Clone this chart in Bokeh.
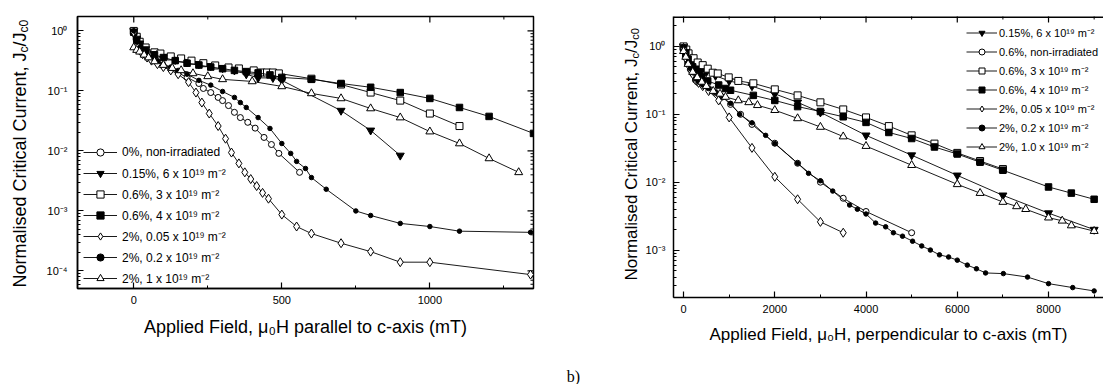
import math
from bokeh.plotting import figure
from bokeh.layouts import row
from bokeh.models import FixedTicker, Legend, LegendItem, Label, CustomJSTickFormatter, Range1d, Span
from bokeh.embed import file_html
from bokeh.resources import INLINE

FONT = "Liberation Sans"
H = 384

# ---------------- (left) field parallel to c-axis, mT ----------------
par_x_nonirr = [0, 10, 20, 30, 45, 60, 80, 100, 125, 150, 180, 220, 235, 260, 285, 300, 320, 340, 360, 385, 410, 440, 465, 490, 560]
par_y_nonirr = [1.0, 0.62, 0.5, 0.44, 0.38, 0.34, 0.3, 0.26, 0.23, 0.2, 0.168, 0.133, 0.11, 0.094, 0.078, 0.069, 0.057, 0.044, 0.036, 0.030, 0.024, 0.0168, 0.0128, 0.0091, 0.0044]

par_x_015 = [0, 10, 20, 40, 70, 100, 140, 180, 220, 260, 300, 340, 380, 420, 470, 500, 700, 800, 900]
par_y_015 = [1.0, 0.75, 0.62, 0.5, 0.42, 0.37, 0.33, 0.3, 0.28, 0.26, 0.24, 0.22, 0.19, 0.165, 0.165, 0.15, 0.047, 0.022, 0.0084]

par_x_06_3 = [0, 10, 20, 40, 70, 90, 125, 160, 195, 235, 275, 320, 355, 405, 430, 450, 470, 490, 600, 700, 800, 900, 1000, 1100]
par_y_06_3 = [1.0, 0.8, 0.66, 0.53, 0.44, 0.42, 0.376, 0.348, 0.32, 0.29, 0.266, 0.246, 0.237, 0.22, 0.203, 0.203, 0.203, 0.196, 0.16, 0.128, 0.094, 0.069, 0.042, 0.026]

par_x_06_4 = [0, 10, 20, 40, 70, 100, 140, 180, 220, 260, 300, 340, 380, 420, 460, 500, 600, 700, 800, 900, 1000, 1100, 1200, 1350]
par_y_06_4 = [0.95, 0.72, 0.6, 0.48, 0.4, 0.36, 0.32, 0.29, 0.27, 0.25, 0.235, 0.22, 0.21, 0.2, 0.185, 0.168, 0.156, 0.133, 0.115, 0.094, 0.075, 0.053, 0.0376, 0.0196]

par_x_2_005 = [0, 10, 20, 30, 45, 60, 80, 100, 125, 150, 185, 210, 230, 255, 285, 310, 330, 355, 375, 395, 415, 435, 455, 500, 550, 600, 700, 800, 900, 1000, 1340]
par_y_2_005 = [0.95, 0.58, 0.47, 0.41, 0.36, 0.32, 0.28, 0.25, 0.22, 0.19, 0.14, 0.094, 0.064, 0.042, 0.026, 0.016, 0.0094, 0.0062, 0.0044, 0.0034, 0.0026, 0.0020, 0.0016, 0.00087, 0.00055, 0.00042, 0.00029, 0.00021, 0.00014, 0.00014, 0.000087]

par_x_2_02 = [0, 10, 20, 30, 45, 60, 80, 100, 125, 150, 180, 220, 260, 300, 340, 360, 380, 420, 460, 500, 530, 550, 580, 600, 650, 750, 800, 900, 1000, 1100, 1340]
par_y_2_02 = [1.0, 0.65, 0.52, 0.46, 0.4, 0.36, 0.32, 0.28, 0.25, 0.22, 0.19, 0.15, 0.125, 0.098, 0.078, 0.064, 0.053, 0.036, 0.0237, 0.0133, 0.0091, 0.0067, 0.0051, 0.0036, 0.0023, 0.001, 0.00084, 0.00062, 0.00055, 0.00046, 0.00044]

par_x_2_1 = [0, 10, 20, 35, 50, 70, 100, 130, 160, 200, 250, 300, 400, 500, 600, 700, 800, 900, 1000, 1100, 1200, 1300]
par_y_2_1 = [0.53, 0.48, 0.45, 0.4, 0.36, 0.31, 0.27, 0.24, 0.22, 0.196, 0.175, 0.156, 0.144, 0.119, 0.091, 0.075, 0.051, 0.036, 0.021, 0.0133, 0.0075, 0.0044]

par_labels = ["0%, non-irradiated", "0.15%, 6 x 10¹⁹ m⁻²", "0.6%, 3 x 10¹⁹ m⁻²",
              "0.6%, 4 x 10¹⁹ m⁻²", "2%, 0.05 x 10¹⁹ m⁻²", "2%, 0.2 x 10¹⁹ m⁻²",
              "2%, 1 x 10¹⁹ m⁻²"]

# ---------------- (right) field perpendicular to c-axis, mT ----------------
per_x_015 = [0, 50, 100, 200, 300, 400, 500, 700, 1000, 1500, 2000, 2500, 3000, 4000, 5000, 6000, 7000, 8000, 9000]
per_y_015 = [1.0, 0.85, 0.72, 0.58, 0.5, 0.45, 0.42, 0.37, 0.31, 0.26, 0.2, 0.15, 0.107, 0.049, 0.025, 0.0126, 0.0064, 0.0035, 0.002]

per_x_nonirr = [0, 40, 90, 150, 200, 260, 330, 420, 550, 700, 850, 1030, 1250, 1500, 2000, 2500, 3000, 3500, 4000, 5000]
per_y_nonirr = [1.0, 0.7, 0.56, 0.46, 0.40, 0.32, 0.29, 0.27, 0.24, 0.21, 0.18, 0.14, 0.1, 0.071, 0.0375, 0.019, 0.010, 0.0058, 0.0037, 0.0018]

per_x_06_3 = [0, 60, 110, 220, 310, 420, 530, 640, 750, 990, 1200, 1530, 2000, 2500, 3000, 3500, 4000, 4500, 5000, 5500, 6000, 6500, 7000]
per_y_06_3 = [1.0, 0.9, 0.79, 0.67, 0.58, 0.53, 0.47, 0.41, 0.40, 0.35, 0.31, 0.286, 0.233, 0.19, 0.15, 0.118, 0.090, 0.067, 0.049, 0.037, 0.027, 0.0205, 0.0156]

per_x_06_4 = [0, 50, 100, 200, 300, 400, 530, 770, 920, 1030, 1530, 2000, 2500, 3000, 3500, 4000, 4500, 5000, 5500, 6000, 6500, 7000, 8000, 8500, 9000]
per_y_06_4 = [0.95, 0.8, 0.65, 0.5, 0.42, 0.36, 0.31, 0.27, 0.24, 0.226, 0.19, 0.16, 0.13, 0.11, 0.092, 0.076, 0.054, 0.044, 0.033, 0.026, 0.0197, 0.015, 0.0085, 0.0069, 0.0056]

per_x_2_005 = [0, 40, 90, 150, 200, 260, 330, 420, 550, 770, 1000, 1500, 2000, 2500, 3000, 3500]
per_y_2_005 = [0.95, 0.68, 0.55, 0.45, 0.39, 0.32, 0.29, 0.26, 0.22, 0.16, 0.09, 0.032, 0.012, 0.0056, 0.0026, 0.0018]

per_x_2_02 = [0, 40, 90, 150, 200, 260, 330, 420, 550, 700, 850, 1030, 1230, 1500, 1800, 2000, 2500, 2740, 3000, 3270, 3640, 3810, 4000, 4210, 4430, 4600, 4800, 5020, 5220, 5410, 5610, 5810, 6000, 6220, 6420, 6620, 7010, 7540, 8000, 8530, 9000]
per_y_2_02 = [1.0, 0.72, 0.57, 0.47, 0.41, 0.33, 0.3, 0.27, 0.24, 0.21, 0.18, 0.145, 0.1, 0.075, 0.049, 0.037, 0.019, 0.0135, 0.0105, 0.0074, 0.0046, 0.004, 0.0034, 0.0025, 0.0022, 0.0018, 0.0016, 0.00135, 0.00115, 0.001, 0.00085, 0.00079, 0.00071, 0.0006, 0.00053, 0.00046, 0.00045, 0.0004, 0.00032, 0.00028, 0.00025]

per_x_2_1 = [0, 50, 100, 200, 300, 400, 500, 650, 800, 920, 1200, 1430, 1620, 2000, 2500, 3000, 3500, 4000, 5000, 6000, 6500, 7000, 7300, 7500, 8000, 8300, 8500, 9000]
per_y_2_1 = [0.85, 0.7, 0.55, 0.42, 0.35, 0.3, 0.26, 0.22, 0.2, 0.18, 0.16, 0.15, 0.136, 0.115, 0.087, 0.065, 0.047, 0.034, 0.0178, 0.0093, 0.0069, 0.0051, 0.0044, 0.004, 0.003, 0.0027, 0.0023, 0.0019]

per_labels = ["0.15%, 6 x 10¹⁹ m⁻²", "0.6%, non-irradiated", "0.6%, 3 x 10¹⁹ m⁻²",
              "0.6%, 4 x 10¹⁹ m⁻²", "2%, 0.05 x 10¹⁹ m⁻²", "2%, 0.2 x 10¹⁹ m⁻²",
              "2%, 1.0 x 10¹⁹ m⁻²"]

par_xticks = [0, 500, 1000]
par_xminor = [250, 750, 1250]
per_xticks = [0, 2000, 4000, 6000, 8000]
per_xminor = [1000, 3000, 5000, 7000, 9000]

# marker styles: (marker, size, fill)
STY = {
    "nonirr": ("circle", 6, "white"),
    "015": ("inverted_triangle", 8, "black"),
    "06_3": ("square", 7, "white"),
    "06_4": ("square", 6.5, "black"),
    "2_005": ("diamond", 9, "white"),
    "2_02": ("circle", 4.5, "black"),
    "2_1": ("triangle", 8, "white"),
}

SUP_JS = """
const sup = {"-":"\u207b","0":"\u2070","1":"\u00b9","2":"\u00b2","3":"\u00b3","4":"\u2074","5":"\u2075","6":"\u2076","7":"\u2077","8":"\u2078","9":"\u2079"};
const e = Math.round(Math.log10(tick));
return "10" + String(e).split("").map(c => sup[c]).join("");
"""

AW = {"N": 722, "o": 556, "r": 333, "m": 833, "a": 556, "l": 222, "i": 222, "s": 500,
      "e": 556, "d": 556, " ": 278, "C": 722, "t": 278, "c": 500, "u": 556, "n": 556,
      ",": 278, "J": 500, "/": 278, "0": 556}


def tw(s, px):
    return sum(AW.get(ch, 556) for ch in s) * px / 1000.0


def log_ticks(lo, hi):
    majors = [10.0 ** k for k in range(lo, hi + 1)]
    minors = [m * 10.0 ** k for k in range(lo - 1, hi + 1) for m in range(2, 10)]
    return majors, minors


def style_axis(ax, size="11px", standoff=8):
    ax.axis_line_width = 1.5
    ax.axis_line_color = "black"
    ax.major_tick_in = 6
    ax.major_tick_out = 0
    ax.minor_tick_in = 3
    ax.minor_tick_out = 0
    ax.major_tick_line_width = 1.2
    ax.minor_tick_line_width = 1
    ax.major_tick_line_color = "black"
    ax.minor_tick_line_color = "black"
    ax.major_label_text_font = FONT
    ax.major_label_text_font_size = size
    ax.major_label_text_color = "black"
    ax.major_label_standoff = standoff


def label_fig(w):
    f = figure(width=w, height=H, x_range=Range1d(0, w), y_range=Range1d(0, H),
               x_axis_location=None, y_axis_location=None, toolbar_location=None,
               output_backend="svg", min_border=0, frame_align=False)
    f.outline_line_color = None
    f.grid.visible = False
    f.background_fill_color = "white"
    f.border_fill_color = "white"
    return f


def ylabel(f, x, y0, big, small, sub_dx):
    parts = [("Normalised Critical Current, J", big, 0), ("c", small, sub_dx),
             ("/J", big, 0), ("c0", small, sub_dx)]
    y = y0
    for txt, px, dx in parts:
        f.add_layout(Label(x=x + dx, y=y, text=txt, angle=math.pi / 2,
                           text_align="left", text_baseline="middle",
                           text_font=FONT, text_font_size=f"{px}px", text_color="black"))
        y += tw(txt, px)


def add_series(p, xs, ys, key):
    mk, sz, fill = STY[key]
    r1 = p.line(xs, ys, line_color="black", line_width=0.9)
    r2 = p.scatter(xs, ys, marker=mk, size=sz, fill_color=fill, line_color="black", line_width=1)
    return [r1, r2]


def mirror_ticks(p, xr, yr, xt, xm, yt, ym, right):
    # inward tick marks on the top (and right) frame edges: dashes centred on the edge,
    # the outer half is clipped away by the frame
    p.scatter(xt, [yr[1]] * len(xt), marker="dash", angle=math.pi / 2, size=12,
              line_color="black", line_width=1.2)
    p.scatter(xm, [yr[1]] * len(xm), marker="dash", angle=math.pi / 2, size=6,
              line_color="black", line_width=1)
    if right:
        p.scatter([xr[1]] * len(yt), yt, marker="dash", size=12, line_color="black", line_width=1.2)
        p.scatter([xr[1]] * len(ym), ym, marker="dash", size=6, line_color="black", line_width=1)


def make_panel(width, xr, yr, borders, xt, xm, ylo, yhi, xlabel, xlsize, xlstand,
               series, labels, leg_loc, leg_glyph_w, leg_h, leg_sp, leg_font, leg_stand,
               right_edge, ystand):
    p = figure(width=width, height=H, x_range=Range1d(*xr), y_range=Range1d(*yr),
               y_axis_type="log", output_backend="svg", toolbar_location=None,
               min_border_left=borders[0], min_border_right=borders[1],
               min_border_top=borders[2], min_border_bottom=borders[3], frame_align=False)
    p.xgrid.visible = False
    p.ygrid.visible = False
    p.background_fill_color = "white"
    p.border_fill_color = "white"
    if right_edge:
        p.outline_line_color = "black"
        p.outline_line_width = 1.5
    else:
        p.outline_line_color = None
        p.add_layout(Span(location=yr[1], dimension="width", line_color="black", line_width=3))

    yt, ym = log_ticks(ylo, yhi)
    p.xaxis.ticker = FixedTicker(ticks=xt, minor_ticks=xm)
    p.yaxis.ticker = FixedTicker(ticks=yt, minor_ticks=ym)
    p.yaxis.formatter = CustomJSTickFormatter(code=SUP_JS)
    style_axis(p.xaxis[0], "11px", 7)
    style_axis(p.yaxis[0], "11px", ystand)
    p.xaxis.axis_label = xlabel
    p.xaxis.axis_label_text_font = FONT
    p.xaxis.axis_label_text_font_size = xlsize
    p.xaxis.axis_label_text_font_style = "normal"
    p.xaxis.axis_label_text_color = "black"
    p.xaxis.axis_label_standoff = xlstand

    mirror_ticks(p, xr, yr, xt, xm, yt, ym, right_edge)

    items = []
    for (xs, ys, key), lab in zip(series, labels):
        rs = add_series(p, xs, ys, key)
        items.append(LegendItem(label=lab, renderers=rs))
    leg = Legend(items=items, location=leg_loc, padding=0, margin=0, spacing=leg_sp,
                 glyph_width=leg_glyph_w, glyph_height=leg_h, label_height=leg_h,
                 label_standoff=leg_stand, label_text_font=FONT,
                 label_text_font_size=leg_font, label_text_color="black",
                 background_fill_alpha=0, border_line_color=None)
    p.add_layout(leg, "center")
    return p


# label strip left of panel (a)
lab1 = label_fig(40)
ylabel(lab1, 19, H - 287, 18, 12, 4)

p1 = make_panel(
    520, (-190, 1350), (5.1e-5, 1.74), (37, 27, 16, 96),
    par_xticks, par_xminor, -4, 0,
    "Applied Field, μ₀H parallel to c-axis (mT)", "18px", 10,
    [(par_x_nonirr, par_y_nonirr, "nonirr"), (par_x_015, par_y_015, "015"),
     (par_x_06_3, par_y_06_3, "06_3"), (par_x_06_4, par_y_06_4, "06_4"),
     (par_x_2_005, par_y_2_005, "2_005"), (par_x_2_02, par_y_2_02, "2_02"),
     (par_x_2_1, par_y_2_1, "2_1")],
    par_labels, (6, 1), 34, 18, 3, "12px", 5,
    True, 10)

# label strip left of panel (b), also carries the "b)" caption
lab2 = label_fig(80)
ylabel(lab2, 71, H - 280, 17, 11, 3.5)
lab2.add_layout(Label(x=13, y=8, text="b)", text_align="center", text_baseline="middle",
                      text_font="Liberation Serif", text_font_size="16px", text_color="black"))

p2 = make_panel(
    463, (-220, 9205), (2.0e-4, 2.76), (33, 0, 16, 87),
    per_xticks, per_xminor, -3, 0,
    "Applied Field, μ₀H, perpendicular to c-axis (mT)", "17px", 9,
    [(per_x_015, per_y_015, "015"), (per_x_nonirr, per_y_nonirr, "nonirr"),
     (per_x_06_3, per_y_06_3, "06_3"), (per_x_06_4, per_y_06_4, "06_4"),
     (per_x_2_005, per_y_2_005, "2_005"), (per_x_2_02, per_y_2_02, "2_02"),
     (per_x_2_1, per_y_2_1, "2_1")],
    per_labels, (293, 143), 31, 15, 4, "11px", 2,
    False, 8)

layout = row(lab1, p1, lab2, p2)
open("out.html", "w").write(file_html(layout, INLINE))
